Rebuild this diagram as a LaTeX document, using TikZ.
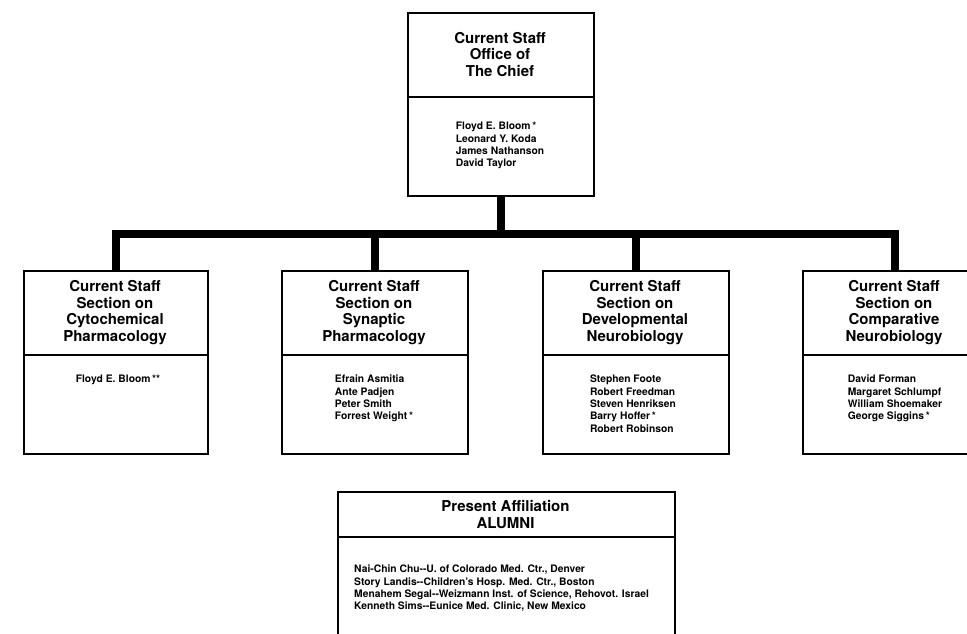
\documentclass[tikz,border=0pt]{standalone}
\usepackage{fontspec}
\setmainfont{TeX Gyre Heros}
\newcommand{\dhy}{-{}-}
\begin{document}
\begin{tikzpicture}[x=1pt,y=-1pt,
  box/.style={draw, line width=1.8pt, anchor=north west, inner sep=0pt, fill=white},
  divider/.style={line width=1.8pt},
  head/.style={font=\fontsize{15}{16.6}\selectfont\bfseries, align=center, inner sep=0pt},
  names/.style={font=\fontsize{10.3}{12.3}\selectfont\bfseries, align=left, inner sep=0pt, anchor=north},
  conn/.style={line width=8.5pt, line join=miter, line cap=butt}]
\useasboundingbox (0,0) rectangle (967,633);
\clip (0,0) rectangle (967,633);
\fill[white] (0,0) rectangle (967,633);
\coordinate (barY) at (0,234);

% boxes
\node[box, minimum width=186pt, minimum height=183pt] (top) at (407,12) {};
\node[box, minimum width=184pt, minimum height=183pt] (b1) at (23,270) {};
\node[box, minimum width=186pt, minimum height=183pt] (b2) at (281,270) {};
\node[box, minimum width=186pt, minimum height=183pt] (b3) at (542,270) {};
\node[box, minimum width=184pt, minimum height=183pt] (b4) at (802,270) {};
\node[box, minimum width=337pt, minimum height=160pt] (al) at (337,491) {};

% connectors
\draw[conn] (b1.north) -- (b1.north |- barY) -- (b4.north |- barY) -- (b4.north);
\draw[conn] (top.south) -- (top.south |- barY);
\draw[conn] (b2.north) -- (b2.north |- barY);
\draw[conn] (b3.north) -- (b3.north |- barY);

% dividers
\draw[divider] (top.west |- 0,97) -- (top.east |- 0,97);
\draw[divider] (b1.west |- 0,355) -- (b1.east |- 0,355);
\draw[divider] (b2.west |- 0,355) -- (b2.east |- 0,355);
\draw[divider] (b3.west |- 0,355) -- (b3.east |- 0,355);
\draw[divider] (b4.west |- 0,355) -- (b4.east |- 0,355);
\draw[divider] (al.west |- 0,537) -- (al.east |- 0,537);

% headings
\node[head] (toph) at (500,54.5) {Current Staff\\Office of\\The Chief};
\node[head] (b1h) at (115,312.5) {Current Staff\\Section on\\Cytochemical\\Pharmacology};
\node[head] (b2h) at (374,312.5) {Current Staff\\Section on\\Synaptic\\Pharmacology};
\node[head] (b3h) at (635,312.5) {Current Staff\\Section on\\Developmental\\Neurobiology};
\node[head] (b4h) at (894,312.5) {Current Staff\\Section on\\Comparative\\Neurobiology};
\node[head] (alh) at (505.5,514.5) {Present Affiliation\\ALUMNI};

% names
\node[names] (topn) at (500,122) {Floyd E. Bloom\,*\\Leonard Y. Koda\\James Nathanson\\David Taylor};
\node[names] (b1n) at (118,375) {Floyd E. Bloom\,**};
\node[names] (b2n) at (374,375) {Efrain Asmitia\\Ante Padjen\\Peter Smith\\Forrest Weight\,*};
\node[names] (b3n) at (633,375) {Stephen Foote\\Robert Freedman\\Steven Henriksen\\Barry Hoffer\,*\\Robert Robinson};
\node[names] (b4n) at (895,375) {David Forman\\Margaret Schlumpf\\William Shoemaker\\George Siggins\,*};
\node[names, anchor=north west] (aln) at (354,565) {Nai-Chin Chu\dhy U. of Colorado Med. Ctr., Denver\\Story Landis\dhy Children's Hosp. Med. Ctr., Boston\\Menahem Segal\dhy Weizmann Inst. of Science, Rehovot. Israel\\Kenneth Sims\dhy Eunice Med. Clinic, New Mexico};
\end{tikzpicture}
\end{document}
